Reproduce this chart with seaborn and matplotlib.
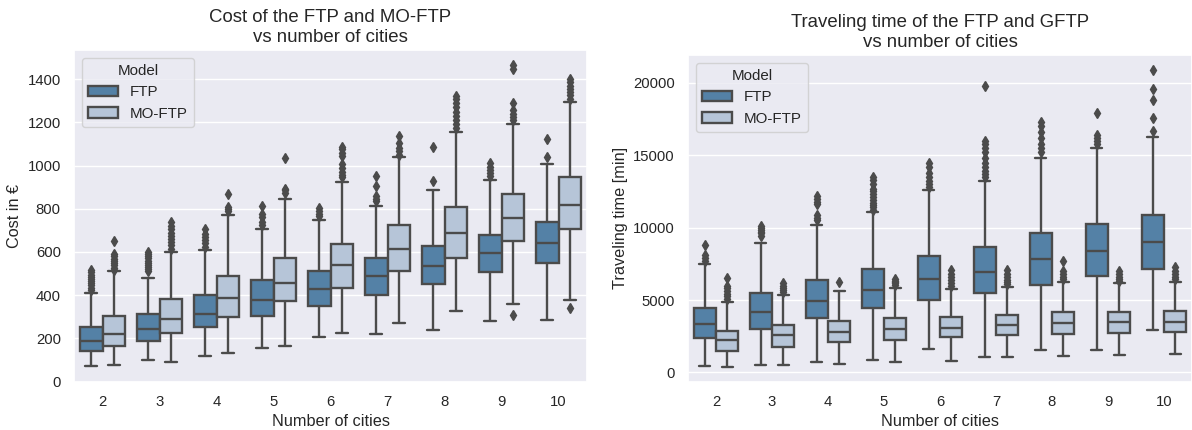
import numpy as np
import pandas as pd
import matplotlib
matplotlib.use("Agg")
import matplotlib.pyplot as plt
import seaborn as sns

# ---------------- data ----------------
cities = [2, 3, 4, 5, 6, 7, 8, 9, 10]
models = ["FTP", "MO-FTP"]

# Cost in EUR: box statistics per number of cities
cost_ftp_lo  = [70, 100, 120, 154, 206, 218, 238, 280, 287]
cost_ftp_q1  = [141, 189, 253, 304, 350, 400, 450, 506, 550]
cost_ftp_med = [187, 243, 315, 377, 430, 487, 537, 595, 641]
cost_ftp_q3  = [253, 315, 400, 469, 514, 572, 626, 680, 738]
cost_ftp_hi  = [412, 481, 610, 707, 746, 815, 887, 935, 1007]
cost_ftp_out = [
    [425, 435, 445, 455, 465, 475, 485, 495, 505, 515],
    [510, 520, 530, 540, 550, 560, 570, 580, 590, 600],
    [625, 640, 655, 670, 685, 705],
    [725, 740, 760, 775, 815],
    [765, 775, 790, 805],
    [835, 845, 860, 905, 950],
    [930, 1085],
    [950, 965, 980, 995, 1010],
    [1040, 1125],
]

cost_mo_lo  = [77, 92, 131, 166, 227, 269, 329, 361, 377]
cost_mo_q1  = [164, 226, 297, 372, 433, 510, 574, 649, 707]
cost_mo_med = [218, 292, 387, 458, 540, 612, 690, 756, 818]
cost_mo_q3  = [303, 380, 489, 572, 635, 724, 810, 869, 946]
cost_mo_hi  = [510, 598, 773, 846, 922, 1038, 1156, 1192, 1292]
cost_mo_out = [
    [518, 528, 538, 548, 558, 568, 580, 592, 650],
    [615, 630, 645, 660, 675, 690, 705, 720, 740],
    [790, 800, 810, 870],
    [875, 885, 893, 1035],
    [945, 955, 970, 990, 1005, 1045, 1060, 1075, 1085],
    [1050, 1065, 1080, 1105, 1135],
    [1175, 1190, 1210, 1230, 1250, 1270, 1290, 1310, 1320],
    [310, 1210, 1225, 1240, 1255, 1290, 1445, 1465],
    [340, 1310, 1325, 1340, 1355, 1370, 1385, 1400],
]

# Traveling time in minutes: box statistics per number of cities
time_ftp_lo  = [413, 482, 689, 868, 1653, 1033, 1536, 1536, 2913]
time_ftp_q1  = [2362, 2982, 3740, 4450, 4979, 5510, 6012, 6653, 7114]
time_ftp_med = [3375, 4174, 4931, 5689, 6474, 6929, 7851, 8358, 9000]
time_ftp_q3  = [4450, 5461, 6405, 7150, 8050, 8650, 9642, 10240, 10860]
time_ftp_hi  = [7507, 8974, 10213, 11100, 12624, 13244, 14780, 15469, 16228]
time_ftp_out = [
    [7700, 7900, 8100, 8800],
    [9400, 9600, 9700, 9850, 10000, 10100],
    [10500, 10700, 10900, 11600, 11800, 12000, 12200],
    [11250, 11400, 11550, 11700, 11900, 12100, 12300, 12500, 12700, 13000, 13300, 13500],
    [12800, 13000, 13200, 13500, 13800, 14200, 14500],
    [13500, 13700, 13900, 14200, 14500, 14800, 15200, 15500, 15800, 16000, 19800],
    [15200, 15500, 15800, 16200, 16600, 17000, 17300],
    [15800, 16000, 16200, 16400, 17900],
    [16700, 17600, 18800, 19600, 20900],
]

time_mo_lo  = [386, 482, 551, 731, 758, 1033, 1102, 1171, 1260]
time_mo_q1  = [1500, 1763, 2135, 2245, 2452, 2569, 2686, 2755, 2797]
time_mo_med = [2225, 2569, 2797, 2982, 3099, 3258, 3444, 3485, 3512]
time_mo_q3  = [2850, 3258, 3533, 3740, 3809, 3946, 4174, 4174, 4222]
time_mo_hi  = [4840, 5345, 5599, 5854, 5737, 5923, 6240, 6199, 6240]
time_mo_out = [
    [5100, 5250, 5400, 5600, 5800, 6000, 6500],
    [5550, 5700, 5850, 6000, 6150],
    [6250],
    [6050, 6150, 6250, 6350, 6450],
    [6000, 6200, 6400, 6600, 6800, 7100],
    [6100, 6250, 6400, 6600, 6800, 7100],
    [6450, 6600, 6800, 7000, 7700],
    [6350, 6450, 6600, 6800, 7000],
    [6450, 6600, 6800, 7000, 7300],
]


def sample_from_stats(lo, q1, med, q3, hi, outliers, reps=100):
    """Observations whose box-plot statistics equal the values read above."""
    return ([o for o in outliers if o < lo] + [lo] + [q1] * reps + [med] * reps
            + [q3] * reps + [hi] + [o for o in outliers if o > hi])


def build_frame(col, stats):
    rows = []
    for model, (lo, q1, med, q3, hi, out) in zip(models, stats):
        for i, c in enumerate(cities):
            for v in sample_from_stats(lo[i], q1[i], med[i], q3[i], hi[i], out[i]):
                rows.append((c, model, v))
    return pd.DataFrame(rows, columns=["Number of cities", "Model", col])


cost_df = build_frame("Cost in €", [
    (cost_ftp_lo, cost_ftp_q1, cost_ftp_med, cost_ftp_q3, cost_ftp_hi, cost_ftp_out),
    (cost_mo_lo, cost_mo_q1, cost_mo_med, cost_mo_q3, cost_mo_hi, cost_mo_out),
])
time_df = build_frame("Traveling time [min]", [
    (time_ftp_lo, time_ftp_q1, time_ftp_med, time_ftp_q3, time_ftp_hi, time_ftp_out),
    (time_mo_lo, time_mo_q1, time_mo_med, time_mo_q3, time_mo_hi, time_mo_out),
])

# ---------------- style ----------------
sns.set_theme(style="darkgrid")
plt.rcParams["font.family"] = ["Liberation Sans", "DejaVu Sans"]
plt.rcParams.update({
    "xtick.labelsize": 10.7,
    "ytick.labelsize": 10.7,
    "axes.labelsize": 11.7,
    "axes.titlesize": 13.4,
    "legend.fontsize": 10.9,
    "legend.title_fontsize": 10.9,
})

gray = "#4b4b4b"
palette = ["steelblue", "lightsteelblue"]

fig = plt.figure(figsize=(11.92, 4.30), dpi=100)
ax1 = fig.add_axes([74 / 1192, 48.4 / 430, 513 / 1192, 331.6 / 430])
ax2 = fig.add_axes([688 / 1192, 48.3 / 430, 504 / 1192, 326.7 / 430])

box_kws = dict(x="Number of cities", hue="Model", palette=palette, saturation=0.75,
               linecolor=gray, linewidth=1.7, width=0.8,
               flierprops=dict(marker="d", markersize=5, markerfacecolor=gray,
                               markeredgecolor=gray))

sns.boxplot(data=cost_df, y="Cost in €", ax=ax1, **box_kws)
sns.boxplot(data=time_df, y="Traveling time [min]", ax=ax2, **box_kws)

ax1.set_ylim(bottom=0)
ax1.set_title("Cost of the FTP and MO-FTP\nvs number of cities")
ax2.set_title("Traveling time of the FTP and GFTP\nvs number of cities")

for ax in (ax1, ax2):
    sns.move_legend(ax, "upper left", title="Model")

fig.savefig("out.png", dpi=100)
